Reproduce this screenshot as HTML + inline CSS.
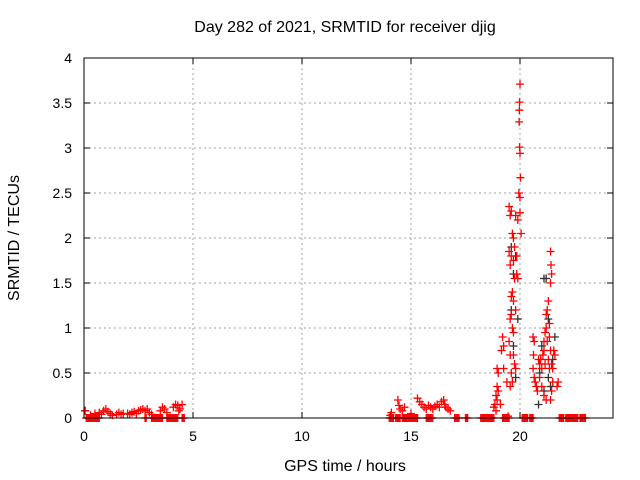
<!DOCTYPE html>
<html><head><meta charset="utf-8"><style>
body{margin:0;background:#fff}
svg{display:block;font-family:"Liberation Sans",sans-serif;font-size:14px}
</style></head><body>
<svg id="chart" width="640" height="480">
<text x="345" y="32" text-anchor="middle" font-size="16">Day 282 of 2021, SRMTID for receiver djig</text>
<text x="345" y="471" text-anchor="middle" font-size="16">GPS time / hours</text>
<text transform="translate(19,238) rotate(-90)" text-anchor="middle" font-size="16">SRMTID / TECUs</text>
<g id="grid"></g><g id="ticks"></g><g id="marks"></g>
<rect x="84" y="58" width="529" height="360" fill="none" stroke="#000"/>
</svg>
<script>
const xTicks=[0,5,10,15,20];
const yTicks=[0,0.5,1,1.5,2,2.5,3,3.5,4];
const yTickLabels=["0","0.5","1","1.5","2","2.5","3","3.5","4"];
const redPoints=[[0.05,0.08],[0.3,0.03],[0.5,0.05],[0.7,0.06],[0.8,0.04],[0.9,0.08],[1.0,0.1],[1.1,0.07],[1.2,0.05],[1.3,0.03],[1.5,0.04],[1.6,0.06],[1.7,0.04],[1.8,0.05],[2.0,0.05],[2.1,0.04],[2.2,0.06],[2.3,0.07],[2.4,0.05],[2.5,0.08],[2.6,0.09],[2.7,0.1],[2.8,0.08],[2.9,0.1],[3.0,0.06],[3.1,0.04],[3.5,0.08],[3.6,0.12],[3.7,0.1],[3.8,0.06],[4.1,0.12],[4.2,0.15],[4.3,0.14],[4.4,0.1],[4.5,0.15],[4.35,0.08],
[14.05,0.03],[14.1,0.06],[14.4,0.2],[14.45,0.14],[14.5,0.1],[14.6,0.08],[14.7,0.12],[15.3,0.22],[15.4,0.18],[15.5,0.15],[15.6,0.12],[15.7,0.1],[15.8,0.14],[15.9,0.12],[16.0,0.1],[16.1,0.13],[16.2,0.15],[16.3,0.12],[16.4,0.18],[16.5,0.2],[16.55,0.15],[16.6,0.12],[16.7,0.1],[16.8,0.08],[15.0,0.05],
[19.5,2.35],[19.55,2.25],[19.6,2.3],[19.65,2.05],[19.7,2.0],[19.75,1.9],[19.8,2.25],[19.5,1.85],[19.55,1.7],[19.6,1.8],[19.7,1.75],[19.85,1.8],[19.9,1.55],[19.75,1.55],[19.65,1.4],[19.6,1.35],[19.7,1.3],[19.8,1.2],[19.55,1.1],[19.6,1.15],[19.65,1.0],[19.7,0.95],[19.5,0.85],[19.55,0.7],[19.7,0.7],[19.75,0.6],[19.8,0.55],[19.6,0.5],[19.65,0.4],[19.55,0.35],[19.2,0.9],[19.25,0.8],[19.15,0.75],[19.25,0.55],[19.4,0.4],[19.0,0.3],[18.9,0.25],[18.95,0.2],[18.85,0.15],[18.8,0.12],[18.9,0.08],[18.95,0.35],[19.0,0.5],[18.95,0.55],[19.1,0.15],[19.45,0.02],[20.0,3.71],[19.98,3.51],[19.97,3.42],[19.96,3.29],[19.98,3.01],[20.0,2.94],[20.02,2.67],[19.95,2.5],[20.0,2.45],[20.0,2.28],[20.05,2.05],[19.9,2.2],[19.85,1.6],
[20.6,0.9],[20.65,0.85],[20.62,0.7],[20.6,0.55],[20.65,0.45],[20.7,0.4],[20.75,0.35],[20.8,0.3],[20.85,0.65],[20.9,0.6],[20.95,0.65],[21.0,0.55],[21.05,0.7],[21.1,0.75],[21.15,0.95],[21.2,1.15],[21.25,1.2],[21.3,1.3],[21.35,1.05],[21.4,1.85],[21.42,1.7],[21.45,1.6],[21.4,1.5],[21.2,1.0],[21.25,0.85],[21.35,0.9],[21.4,0.75],[21.45,0.6],[21.5,0.55],[21.55,0.75],[21.6,0.7],[21.5,0.4],[21.45,0.3],[21.4,0.2],[21.2,0.2],[21.1,0.25],[21.0,0.35],[20.9,0.45],[21.3,0.65],[21.35,0.55],[21.7,0.35],[21.75,0.4],[21.1,0.85],[21.15,0.6]];
const grayPoints=[[0.05,0.08],[19.6,1.9],[19.7,1.6],[19.8,1.8],[19.6,1.2],[19.7,0.8],[19.8,0.45],[19.9,1.1],[21.1,1.55],[21.2,1.55],[21.3,1.1],[21.0,0.8],[20.9,0.5],[21.1,0.3],[20.85,0.15],[21.3,0.45],[21.4,0.35],[21.5,0.65],[21.6,0.9]];
const zeroHours=[0.1,0.15,0.2,0.25,0.3,0.35,0.4,0.45,0.5,0.55,0.6,0.65,0.7,2.8,2.85,3.1,3.15,3.2,3.25,3.3,3.35,3.4,3.45,3.5,3.55,3.6,3.8,3.85,3.9,3.95,4.0,4.05,4.1,4.15,4.2,4.25,4.3,4.5,4.55,4.6,14.0,14.05,14.1,14.15,14.2,14.3,14.35,14.4,14.45,14.5,14.6,14.65,14.7,14.75,14.8,14.85,14.9,14.95,15.0,15.05,15.1,15.15,15.2,15.25,15.3,15.7,15.75,15.8,15.85,15.9,15.95,16.0,17.0,17.05,17.1,17.15,17.2,17.5,17.55,17.6,18.2,18.25,18.3,18.35,18.4,18.45,18.5,18.55,18.6,18.65,18.7,18.75,18.8,19.2,19.25,19.3,19.35,19.4,19.45,19.5,20.1,20.15,20.2,20.25,20.3,20.35,20.45,20.5,20.55,20.6,21.8,21.85,21.9,21.95,22.0,22.1,22.15,22.2,22.25,22.3,22.35,22.4,22.45,22.5,22.55,22.6,22.65,22.75,22.8,22.85,22.9,22.95,23.0];
const NS="http://www.w3.org/2000/svg";
const X=h=>84+h*21.8, Y=v=>418-v*90;
function mk(t,a,p){const e=document.createElementNS(NS,t);for(const k in a)e.setAttribute(k,a[k]);p.appendChild(e);return e;}
const grid=document.getElementById('grid'),ticks=document.getElementById('ticks'),marks=document.getElementById('marks');
yTicks.forEach((v,i)=>{
 if(v>0&&v<4){const g=mk('line',{x1:84,x2:613,y1:Y(v),y2:Y(v),stroke:'#a0a0a0','stroke-dasharray':'2,3'},grid);
 
 }
 mk('line',{x1:84,x2:90,y1:Y(v),y2:Y(v),stroke:'#000'},ticks);
 mk('line',{x1:607,x2:613,y1:Y(v),y2:Y(v),stroke:'#000'},ticks);
 const t=mk('text',{x:72,y:Y(v)+5,'text-anchor':'end'},ticks);t.textContent=yTickLabels[i];
 
 
});
xTicks.forEach(h=>{
 if(h>0){const g=mk('line',{x1:X(h),x2:X(h),y1:58,y2:418,stroke:'#a0a0a0','stroke-dasharray':'2,3'},grid);
 
 }
 mk('line',{x1:X(h),x2:X(h),y1:418,y2:412,stroke:'#000'},ticks);
 mk('line',{x1:X(h),x2:X(h),y1:58,y2:64,stroke:'#000'},ticks);
 const t=mk('text',{x:X(h),y:441,'text-anchor':'middle'},ticks);t.textContent=h;
 
 
});
function cross(h,v,c,name){const x=X(h),y=Y(v);
 const p=mk('path',{d:`M${x-4},${y}H${x+4}M${x},${y-4}V${y+4}`,stroke:c,'stroke-width':1.3,fill:'none'},marks);
 
 }
grayPoints.forEach(p=>cross(p[0],p[1],'#303030','point-gray'));
zeroHours.forEach(h=>cross(h,0,'#ff0000','point-zero'));
redPoints.forEach(p=>cross(p[0],p[1],'#ff0000','point-red'));
</script>
</body></html>
